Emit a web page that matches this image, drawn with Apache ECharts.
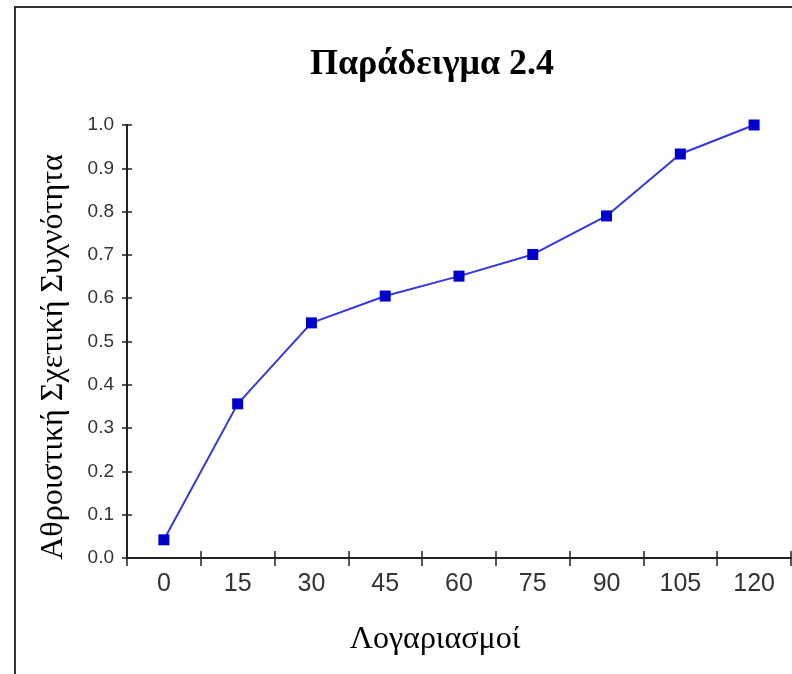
<!DOCTYPE html>
<html>
<head>
<meta charset="utf-8">
<script src="https://cdn.jsdelivr.net/npm/echarts@6/dist/echarts.min.js"></script>
<style>
  html, body { margin: 0; padding: 0; background: #fff; }
  #chart { width: 792px; height: 674px; }
</style>
</head>
<body>
<div id="chart"></div>
<script>
// κατηγορίες (λογαριασμοί) και αθροιστική σχετική συχνότητα
const categories = ['0', '15', '30', '45', '60', '75', '90', '105', '120'];
const cumFreq = [0.042, 0.356, 0.543, 0.605, 0.651, 0.701, 0.790, 0.933, 1.0];

const chart = echarts.init(document.getElementById('chart'));

const axisLine = { show: true, lineStyle: { color: '#222', width: 2 } };

chart.setOption({
  animation: false,
  title: {
    text: 'Παράδειγμα 2.4',
    left: 427,
    top: 42,
    textAlign: 'center',
    textStyle: { fontFamily: 'Liberation Serif', fontWeight: 'bold', fontSize: 36, color: '#000' }
  },
  grid: { left: 127, top: 125, right: 1, bottom: 116, containLabel: false },
  xAxis: [
    {
      type: 'category',
      data: categories,
      boundaryGap: true,
      axisLine: axisLine,
      axisTick: { show: true, length: 8, lineStyle: { color: '#222', width: 1.5 } },
      axisLabel: { fontFamily: 'Liberation Sans', fontSize: 25, color: '#333', margin: 14 },
      splitLine: { show: false }
    },
    {
      // δεύτερος άξονας μόνο για τις εσωτερικές γραμμές υποδιαίρεσης
      type: 'category',
      data: categories,
      position: 'bottom',
      boundaryGap: true,
      axisLine: axisLine,
      axisTick: { show: true, inside: true, length: 7, lineStyle: { color: '#222', width: 1.5 } },
      axisLabel: { show: false },
      splitLine: { show: false }
    }
  ],
  yAxis: [
    {
      type: 'value',
      min: 0,
      max: 1,
      interval: 0.1,
      axisLine: axisLine,
      axisTick: { show: true, length: 5, lineStyle: { color: '#222', width: 1.5 } },
      axisLabel: {
        fontFamily: 'Liberation Sans', fontSize: 19, color: '#333', margin: 13,
        formatter: v => v.toFixed(1)
      },
      splitLine: { show: false }
    },
    {
      type: 'value',
      position: 'left',
      min: 0,
      max: 1,
      interval: 0.1,
      axisLine: axisLine,
      axisTick: { show: true, inside: true, length: 5, lineStyle: { color: '#222', width: 1.5 } },
      axisLabel: { show: false },
      splitLine: { show: false }
    }
  ],
  graphic: [
    {
      type: 'rect',
      shape: { x: 15, y: 7, width: 800, height: 700 },
      style: { fill: 'none', stroke: '#333', lineWidth: 2 },
      silent: true
    },
    {
      type: 'text',
      x: 54,
      y: 357,
      rotation: Math.PI / 2,
      style: {
        text: 'Αθροιστική Σχετική Συχνότητα',
        fontFamily: 'Liberation Serif', fontSize: 32, fill: '#000',
        align: 'center', verticalAlign: 'middle'
      }
    },
    {
      type: 'text',
      x: 435,
      y: 640,
      style: {
        text: 'Λογαριασμοί',
        fontFamily: 'Liberation Serif', fontSize: 32, fill: '#000',
        align: 'center', verticalAlign: 'middle'
      }
    }
  ],
  series: [
    {
      type: 'line',
      data: cumFreq,
      xAxisIndex: 0,
      yAxisIndex: 0,
      symbol: 'rect',
      symbolSize: 11,
      itemStyle: { color: '#0000cc' },
      lineStyle: { color: '#3535e8', width: 2 }
    }
  ]
});
</script>
</body>
</html>
